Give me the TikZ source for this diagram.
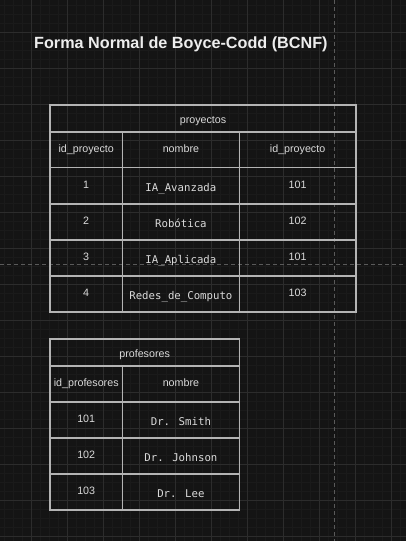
\documentclass[tikz,border=0pt]{standalone}
\usepackage{fontspec}
\setmainfont{Liberation Sans}
\newfontfamily\monof{DejaVu Sans Mono}
\definecolor{bg}{HTML}{141414}
\definecolor{minorc}{HTML}{1A1A1A}
\definecolor{majorc}{HTML}{2C2C2C}
\definecolor{guidec}{HTML}{5A5A5A}
\definecolor{tl}{HTML}{B4B4B4}
\definecolor{tx}{HTML}{DADADA}
\definecolor{ttl}{HTML}{EDEDED}
\begin{document}
\begin{tikzpicture}[x=1pt,y=-1pt,
  minorline/.style={draw=minorc, line width=0.6pt},
  majorline/.style={draw=majorc, line width=0.9pt},
  guide/.style={draw=guidec, line width=0.8pt, dash pattern=on 4pt off 3pt},
  tline/.style={draw=tl, line width=1.1pt},
  sanscell/.style={font=\fontsize{10.7}{12}\selectfont, text=tx, inner sep=0pt, anchor=base},
  monocell/.style={font=\monof\fontsize{10.7}{12}\selectfont, text=tx, inner sep=0pt, anchor=base}]
\fill[bg] (0,0) rectangle (406,541);
\useasboundingbox (0,0) rectangle (406,541);
% grid
\foreach \i in {0,...,46} { \draw[minorline] ({-4.7+9*\i},0) -- ({-4.7+9*\i},541); }
\foreach \i in {0,...,61} { \draw[minorline] (0,{-3.7+9*\i}) -- (406,{-3.7+9*\i}); }
\foreach \i in {0,...,11} { \draw[majorline] ({-4.7+36*\i},0) -- ({-4.7+36*\i},541); }
\foreach \i in {0,...,15} { \draw[majorline] (0,{-3.7+36*\i}) -- (406,{-3.7+36*\i}); }
% guides
\coordinate (gvt) at (334.3,0);
\coordinate (gvb) at (334.3,541);
\coordinate (ghl) at (0,264.7);
\coordinate (ghr) at (406,264.7);
\draw[guide] (gvt) -- (gvb);
\draw[guide] (ghl) -- (ghr);
% title
\node[anchor=base west, inner sep=0pt, font=\bfseries\fontsize{16.2}{19}\selectfont, text=ttl] (title) at (34,48) {Forma Normal de Boyce-Codd (BCNF)};
% table proyectos
\draw[tline] (50,105) rectangle (356,312);
\foreach \yy in {132,167.5,204,240,276} { \draw[tline] (50,\yy) -- (356,\yy); }
\draw[tline] (122.5,132) -- (122.5,312);
\draw[tline] (239.3,132) -- (239.3,312);
\node[sanscell] (ptitle) at (203,123) {proyectos};
\node[sanscell] (ph1) at (86.2,152) {id\_proyecto};
\node[sanscell] (ph2) at (180.9,152) {nombre};
\node[sanscell] (ph3) at (297.6,152) {id\_proyecto};
\node[sanscell] (pa1) at (86.2,188.5) {1};
\node[monocell] (pb1) at (180.9,191) {IA\_Avanzada};
\node[sanscell] (pc1) at (297.6,188.5) {101};
\node[sanscell] (pa2) at (86.2,224.5) {2};
\node[monocell] (pb2) at (180.9,227) {Robótica};
\node[sanscell] (pc2) at (297.6,224.5) {102};
\node[sanscell] (pa3) at (86.2,260.5) {3};
\node[monocell] (pb3) at (180.9,263) {IA\_Aplicada};
\node[sanscell] (pc3) at (297.6,260.5) {101};
\node[sanscell] (pa4) at (86.2,296.5) {4};
\node[monocell] (pb4) at (180.9,299) {Redes\_de\_Computo};
\node[sanscell] (pc4) at (297.6,296.5) {103};
% table profesores
\draw[tline] (50,339) rectangle (239.3,510);
\foreach \yy in {366,402,438,474} { \draw[tline] (50,\yy) -- (239.3,\yy); }
\draw[tline] (122.5,366) -- (122.5,510);
\node[sanscell] (ftitle) at (144.6,357) {profesores};
\node[sanscell] (fh1) at (86.2,386.2) {id\_profesores};
\node[sanscell] (fh2) at (180.9,386.2) {nombre};
\node[sanscell] (fa1) at (86.2,422) {101};
\node[monocell] (fb1) at (180.9,425) {Dr. Smith};
\node[sanscell] (fa2) at (86.2,458) {102};
\node[monocell] (fb2) at (180.9,461) {Dr. Johnson};
\node[sanscell] (fa3) at (86.2,494) {103};
\node[monocell] (fb3) at (180.9,497) {Dr. Lee};
\end{tikzpicture}
\end{document}
